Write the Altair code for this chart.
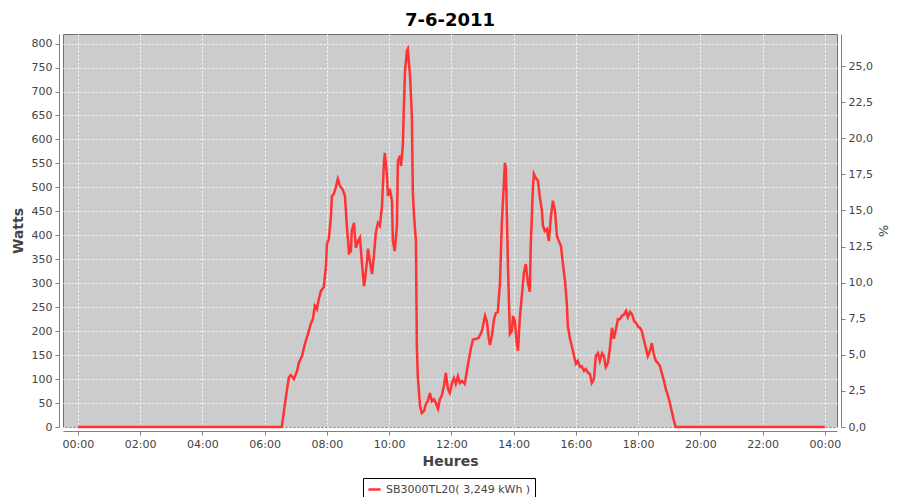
import altair as alt
import pandas as pd

# Time of day (hours) and power (W)
hours = [0.0, 6.55, 6.62, 6.71, 6.78, 6.84, 6.94, 7.04, 7.10, 7.20, 7.29, 7.39, 7.49, 7.55, 7.61, 7.68,
         7.74, 7.81, 7.90, 7.97, 8.00, 8.06, 8.13, 8.16, 8.22, 8.29, 8.35, 8.42, 8.51, 8.58, 8.64,
         8.71, 8.77, 8.80, 8.87, 8.93, 9.00, 9.06, 9.12, 9.19, 9.22, 9.29, 9.32, 9.38, 9.45, 9.51,
         9.57, 9.64, 9.70, 9.77, 9.83, 9.86, 9.93, 9.96, 10.02, 10.09, 10.12, 10.18, 10.25, 10.28,
         10.35, 10.38, 10.44, 10.47, 10.51, 10.57, 10.60, 10.63, 10.67, 10.73, 10.76, 10.80, 10.86,
         10.89, 10.92, 10.99, 11.05, 11.12, 11.18, 11.24, 11.31, 11.37, 11.44, 11.50, 11.57, 11.63,
         11.69, 11.76, 11.82, 11.89, 11.95, 12.02, 12.08, 12.14, 12.21, 12.27, 12.34, 12.43, 12.53,
         12.63, 12.69, 12.79, 12.88, 12.98, 13.08, 13.14, 13.20, 13.24, 13.30, 13.37, 13.43, 13.49,
         13.56, 13.62, 13.69, 13.72, 13.75, 13.78, 13.82, 13.85, 13.88, 13.94, 13.98, 14.04, 14.10,
         14.14, 14.20, 14.27, 14.33, 14.39, 14.46, 14.52, 14.55, 14.62, 14.65, 14.71, 14.78, 14.84,
         14.91, 14.94, 15.00, 15.07, 15.13, 15.20, 15.26, 15.33, 15.39, 15.45, 15.52, 15.58, 15.65,
         15.71, 15.74, 15.81, 15.87, 15.94, 16.00, 16.06, 16.13, 16.19, 16.26, 16.32, 16.39, 16.45,
         16.51, 16.58, 16.64, 16.71, 16.77, 16.84, 16.90, 16.96, 17.03, 17.09, 17.16, 17.22, 17.29,
         17.35, 17.41, 17.48, 17.54, 17.61, 17.67, 17.74, 17.81, 17.87, 17.94, 18.00, 18.06, 18.12,
         18.19, 18.25, 18.31, 18.38, 18.44, 18.51, 18.57, 18.63, 18.70, 18.76, 18.83, 18.89, 18.96,
         19.02, 19.08, 19.15, 19.21, 24.0]
watts = [0, 0, 33, 75, 104, 108, 100, 117, 134, 148, 173, 194, 217, 225, 253, 246,
         267, 284, 292, 336, 382, 392, 440, 482, 486, 501, 518, 503, 495, 482, 420,
         363, 367, 409, 426, 374, 388, 395, 347, 294, 305, 347, 372, 347, 319, 357,
         405, 426, 420, 461, 549, 572, 524, 482, 497, 472, 388, 367, 420, 555,
         566, 545, 587, 660, 743, 785, 789, 764, 733, 649, 493, 440, 388,
         169, 106, 44, 29, 33, 48, 54, 71, 54, 58, 50, 38, 58,
         65, 86, 113, 79, 71, 92, 102, 90, 106, 92, 96, 90, 130,
         165, 182, 184, 186, 200, 232, 220, 185, 171, 190, 225, 238, 240,
         300, 424, 515, 551, 540, 450, 330, 260, 194, 200, 232, 220, 175,
         159, 230, 278, 322, 340, 300, 282, 380, 500, 528, 520, 514, 480,
         451, 420, 409, 413, 388, 440, 472, 451, 399, 388, 378, 342, 305,
         257, 211, 184, 169, 148, 132, 138, 125, 127, 117, 121, 113, 111,
         92, 100, 148, 154, 138, 154, 148, 125, 134, 163, 207, 184, 205,
         225, 225, 232, 234, 242, 229, 240, 234, 221, 217, 209, 207, 200,
         180, 165, 148, 159, 175, 150, 138, 134, 127, 113, 96, 79, 65,
         50, 33, 13, 0, 0]

series_name = "SB3000TL20( 3,249 kWh )"
x_ticks = [0, 2, 4, 6, 8, 10, 12, 14, 16, 18, 20, 22, 24]
watt_ticks = list(range(0, 801, 50))
pct_ticks = [0, 2.5, 5, 7.5, 10, 12.5, 15, 17.5, 20, 22.5, 25]

df = pd.DataFrame({"h": hours, "w": watts, "serie": series_name})
pct_df = pd.DataFrame({"p": [0, 25]})

FONT = "DejaVu Sans"
GREY = "#444444"
AX = "#808080"

x_axis = alt.Axis(values=x_ticks, title="Heures", offset=4, tickSize=4,
                  labelExpr="(datum.value % 24 < 10 ? '0' : '') + (datum.value % 24) + ':00'",
                  grid=True, gridColor="white", gridDash=[2, 2], gridWidth=1, gridOpacity=0.9,
                  domainColor=AX, tickColor=AX, labelColor=GREY, labelFontSize=11,
                  labelFont=FONT, titleFont=FONT, titleFontSize=14, titleFontWeight="bold",
                  titleColor=GREY, labelPadding=3, titlePadding=5)

line = alt.Chart(df).mark_line(strokeWidth=2.5, interpolate="linear").encode(
    x=alt.X("h:Q", scale=alt.Scale(domain=[-0.48, 24.39], nice=False, zero=False), axis=x_axis),
    y=alt.Y("w:Q", scale=alt.Scale(domain=[0, 820], nice=False),
            axis=alt.Axis(values=watt_ticks, title="Watts", offset=4, tickSize=4,
                          grid=True, gridColor="white", gridDash=[2, 2], gridWidth=1, gridOpacity=0.9,
                          domainColor=AX, tickColor=AX, labelColor=GREY, labelFontSize=11,
                          labelFont=FONT, titleFont=FONT, titleFontSize=14, titleFontWeight="bold",
                          titleColor=GREY, labelPadding=3, titlePadding=6)),
    color=alt.Color("serie:N", scale=alt.Scale(range=["#FF3333"]),
                    legend=alt.Legend(title=None, orient="none", legendX=300, legendY=444,
                                      symbolType="stroke", symbolStrokeWidth=2.5, symbolSize=150,
                                      labelFont=FONT, labelFontSize=11, labelColor=GREY,
                                      strokeColor="black", fillColor="white", padding=4)),
)

right = alt.Chart(pct_df).mark_point(opacity=0).encode(
    y=alt.Y("p:Q", scale=alt.Scale(domain=[0, 27.22], nice=False),
            axis=alt.Axis(values=pct_ticks, title="%", orient="right", offset=4, tickSize=4,
                          labelExpr="replace(format(datum.value, '.1f'), '.', ',')",
                          grid=False, domainColor=AX, tickColor=AX, labelColor=GREY,
                          labelFontSize=11, labelFont=FONT, titleFont=FONT, titleFontSize=13,
                          titleFontWeight="normal", titleColor=GREY, labelPadding=3, titlePadding=3)),
)

chart = alt.layer(line, right).resolve_scale(y="independent").properties(
    width=774, height=393,
    title=alt.TitleParams("7-6-2011", fontSize=18, fontWeight="bold", font=FONT,
                          color="black", anchor="middle", offset=4),
    autosize=alt.AutoSizeParams(type="none"),
    padding={"left": 55, "top": 26, "right": 54, "bottom": 70},
    background="white",
).configure_view(fill="#CCCCCC", stroke="#707070", strokeWidth=1)

chart.save("out.html", embed_options={"renderer": "svg", "actions": False})
